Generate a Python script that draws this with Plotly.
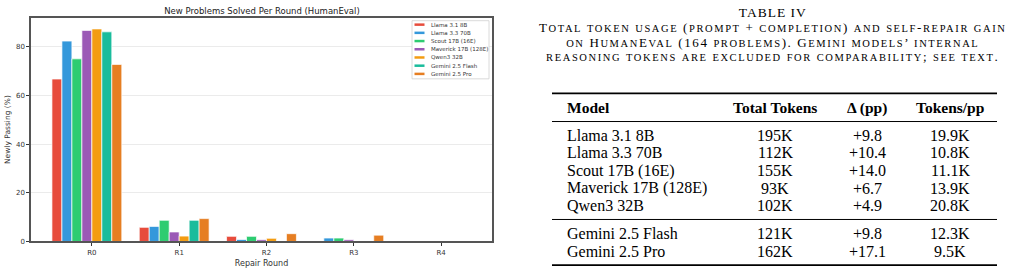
import plotly.graph_objects as go

# ---------------- data ----------------
models = ["Llama 3.1 8B", "Llama 3.3 70B", "Scout 17B (16E)", "Maverick 17B (128E)",
          "Qwen3 32B", "Gemini 2.5 Flash", "Gemini 2.5 Pro"]
rounds = ["R0", "R1", "R2", "R3", "R4"]

llama31 = [66.8, 5.8, 2.1, 0.0, 0.0]
llama33 = [82.4, 6.2, 0.8, 1.4, 0.0]
scout = [75.1, 8.7, 2.1, 1.4, 0.0]
maverick = [86.8, 3.9, 0.7, 0.7, 0.0]
qwen3 = [87.4, 2.2, 1.3, 0.0, 0.0]
flash = [86.2, 8.7, 0.0, 0.0, 0.0]
pro = [72.8, 9.4, 3.2, 2.6, 0.0]
series = [llama31, llama33, scout, maverick, qwen3, flash, pro]

colors = ["#e74c3c", "#3498db", "#2ecc71", "#9b59b6", "#f39c12", "#1abc9c", "#e67e22"]

# table data
tbl_header = ["Model", "Total Tokens", "Δ (pp)", "Tokens/pp"]
tbl_models = ["Llama 3.1 8B", "Llama 3.3 70B", "Scout 17B (16E)", "Maverick 17B (128E)",
              "Qwen3 32B", "Gemini 2.5 Flash", "Gemini 2.5 Pro"]
tbl_tokens = ["195K", "112K", "155K", "93K", "102K", "121K", "162K"]
tbl_delta = ["+9.8", "+10.4", "+14.0", "+6.7", "+4.9", "+9.8", "+17.1"]
tbl_perpp = ["19.9K", "10.8K", "11.1K", "13.9K", "20.8K", "12.3K", "9.5K"]

caption_title = "TABLE IV"
caption_lines = [
    "Total token usage (prompt + completion) and self-repair gain",
    "on HumanEval (164 problems). Gemini models’ internal",
    "reasoning tokens are excluded for comparability; see text.",
]

# ---------------- layout helpers ----------------
W, H = 1027, 277


def px(x):
    return x / W


def py(y):
    return 1 - y / H


SANS = "DejaVu Sans"
SERIF = "Liberation Serif"

fig = go.Figure()

n = len(models)
bw = 0.8 / n
xs = list(range(len(rounds)))
for k, (name, vals, col) in enumerate(zip(models, series, colors)):
    fig.add_trace(go.Bar(
        x=xs, y=vals, width=bw, offset=(k - 4) * bw, name=name,
        marker=dict(color=col, line=dict(color="white", width=0.7)),
        showlegend=False,
    ))

fig.update_layout(
    width=W, height=H, margin=dict(l=0, r=0, t=0, b=0),
    paper_bgcolor="white", plot_bgcolor="white", barmode="overlay",
    title=dict(text="New Problems Solved Per Round (HumanEval)", x=px(262), xanchor="center",
               y=py(11), yanchor="middle", font=dict(family=SANS, size=8.5, color="#222")),
    xaxis=dict(domain=[px(31), px(492)], range=[-0.697, 4.583], tickmode="array",
               tickvals=xs, ticktext=rounds, ticks="outside", ticklen=3, tickwidth=1,
               tickcolor="#333", showline=True, linecolor="#555", linewidth=1.5, mirror=True,
               showgrid=False, zeroline=False,
               tickfont=dict(family=SANS, size=7, color="#333"),
               title=dict(text="Repair Round", font=dict(family=SANS, size=8, color="#333"),
                          standoff=5)),
    yaxis=dict(domain=[py(245), py(18)], range=[0, 92], tickmode="array",
               tickvals=[0, 20, 40, 60, 80], ticks="outside", ticklen=3, tickwidth=1,
               tickcolor="#333", showline=True, linecolor="#555", linewidth=1.5, mirror=True,
               showgrid=True, gridcolor="#ebebeb", gridwidth=1, zeroline=False,
               tickfont=dict(family=SANS, size=7, color="#333"),
               title=dict(text="Newly Passing (%)", font=dict(family=SANS, size=7.5, color="#333"),
                          standoff=4)),
)

shapes = []
annotations = []

# ---- manual compact legend ----
shapes.append(dict(type="rect", xref="paper", yref="paper", x0=px(412), x1=px(489),
                   y0=py(80), y1=py(21), line=dict(color="#d0d0d0", width=0.8),
                   fillcolor="white", layer="above"))
for k, (name, col) in enumerate(zip(models, colors)):
    yy = 25 + 8.33 * k
    shapes.append(dict(type="line", xref="paper", yref="paper", x0=px(414.5), x1=px(424.5),
                       y0=py(yy), y1=py(yy), line=dict(color=col, width=2.5), layer="above"))
    annotations.append(dict(text=name, xref="paper", yref="paper", x=px(429), y=py(yy),
                            xanchor="left", yanchor="middle", showarrow=False,
                            font=dict(family=SANS, size=5.5, color="#333")))


# ---- caption (small caps emulation, one multi-line text) ----
CAP_BIG, CAP_SMALL, CAP_LS = 13, 10.5, 1.6


def smallcaps(s):
    out = []
    buf = ""
    for ch in s:
        if ch.islower():
            buf += ch.upper()
        else:
            if buf:
                out.append(f"<span style='font-size:{CAP_SMALL}px'>{buf}</span>")
                buf = ""
            out.append(ch)
    if buf:
        out.append(f"<span style='font-size:{CAP_SMALL}px'>{buf}</span>")
    return (f"<span style='font-size:{CAP_BIG}px;letter-spacing:{CAP_LS}px'>"
            + "".join(out) + "</span>")


cap_text = (f"<span style='font-size:13.5px;letter-spacing:1px'>{caption_title}</span><br>"
            + "<br>".join(smallcaps(l) for l in caption_lines))
annotations.append(dict(text=cap_text, xref="paper", yref="paper", x=px(773), y=py(34.5),
                        xanchor="center", yanchor="middle", align="center", showarrow=False,
                        font=dict(family=SERIF, size=11.4, color="black")))

# ---- table ----
tx0, tx1 = 552, 997
col_x = [565, 775, 867, 950]
anchors = ["left", "center", "center", "center"]
BODY = 16


def rule(y, wdt):
    shapes.append(dict(type="line", xref="paper", yref="paper", x0=px(tx0), x1=px(tx1),
                       y0=py(y), y1=py(y), line=dict(color="black", width=wdt)))


rule(94.7, 1.6)
for txt, cx, an in zip(tbl_header, col_x, anchors):
    annotations.append(dict(text=f"<b>{txt}</b>", xref="paper", yref="paper", x=px(cx), y=py(109.5),
                            xanchor=an, yanchor="middle", showarrow=False,
                            font=dict(family=SERIF, size=15.5, color="black")))
rule(123.3, 1.0)
row_y = [137.3, 155.0, 173.0, 191.0, 209.0, 237.3, 255.0]
for i in range(len(tbl_models)):
    row = [tbl_models[i], tbl_tokens[i], tbl_delta[i], tbl_perpp[i]]
    for txt, cx, an in zip(row, col_x, anchors):
        annotations.append(dict(text=txt, xref="paper", yref="paper", x=px(cx), y=py(row_y[i]),
                                xanchor=an, yanchor="middle", showarrow=False,
                                font=dict(family=SERIF, size=BODY, color="black")))
rule(222.7, 1.0)
rule(269.0, 1.6)

fig.update_layout(shapes=shapes, annotations=annotations)
fig.write_html("out.html")
